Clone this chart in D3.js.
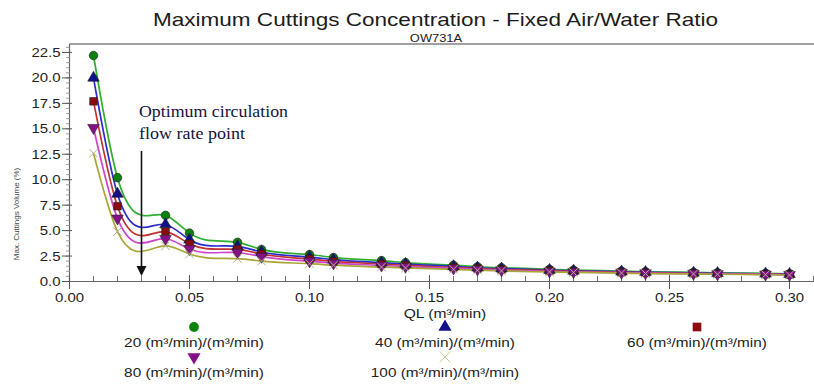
<!DOCTYPE html>
<html>
<head>
<meta charset="utf-8">
<script src="https://cdn.jsdelivr.net/npm/d3@7"></script>
<style>
  html, body { margin: 0; padding: 0; background: #fff; }
  svg { display: block; }
  text { font-family: "Liberation Sans", Arial, sans-serif; fill: #222; }
</style>
</head>
<body>
<svg id="chart" width="814" height="385"></svg>
<script>
// Liquid flow rate QL (m³/min) at which each case was simulated
const ql = [0.01, 0.02, 0.04, 0.05, 0.07, 0.08, 0.10, 0.11, 0.13, 0.14, 0.16,
            0.17, 0.18, 0.20, 0.21, 0.23, 0.24, 0.26, 0.27, 0.29, 0.30];

// Maximum cuttings volume (%) for each air/water ratio
const ratio20  = [22.2, 10.2, 6.5, 4.75, 3.85, 3.15, 2.65, 2.35, 2.05, 1.85, 1.6,
                  1.45, 1.35, 1.2, 1.12, 1.02, 0.96, 0.9, 0.85, 0.8, 0.76];
const ratio40  = [20.0, 8.6, 5.6, 4.1, 3.45, 2.9, 2.4, 2.15, 1.85, 1.7, 1.48,
                  1.35, 1.26, 1.12, 1.05, 0.96, 0.91, 0.85, 0.81, 0.76, 0.72];
const ratio60  = [17.7, 7.4, 4.9, 3.7, 3.15, 2.7, 2.2, 1.97, 1.72, 1.58, 1.38,
                  1.27, 1.18, 1.06, 0.99, 0.91, 0.86, 0.81, 0.77, 0.72, 0.69];
const ratio80  = [15.1, 6.2, 4.2, 3.2, 2.85, 2.45, 2.0, 1.8, 1.58, 1.46, 1.3,
                  1.2, 1.12, 1.0, 0.94, 0.87, 0.82, 0.77, 0.74, 0.7, 0.66];
const ratio100 = [12.6, 4.9, 3.5, 2.7, 2.25, 2.0, 1.75, 1.6, 1.42, 1.33, 1.2,
                  1.11, 1.04, 0.94, 0.89, 0.83, 0.78, 0.74, 0.71, 0.67, 0.64];

const seriesNames = ["20 (m³/min)/(m³/min)", "40 (m³/min)/(m³/min)", "60 (m³/min)/(m³/min)",
                     "80 (m³/min)/(m³/min)", "100 (m³/min)/(m³/min)"];
const seriesValues = [ratio20, ratio40, ratio60, ratio80, ratio100];

const xTickValues = [0, 0.05, 0.10, 0.15, 0.20, 0.25, 0.30];
const yTickValues = [0, 2.5, 5, 7.5, 10, 12.5, 15, 17.5, 20, 22.5];

const optimumQL = 0.03;

// Styling per series
const lineColors   = ["#2fae2f", "#2a2ad0", "#c03232", "#cc44cc", "#a9a635"];
const markerColors = ["#0a820a", "#10108a", "#8a0c0c", "#86108a", "#c9c9a0"];
const markerShapes = [d3.symbolCircle, d3.symbolTriangle, d3.symbolSquare, "down", d3.symbolX];

// Natural cubic spline in x (y as a function of x), emitted as Bezier segments
function NaturalSplineX(context) { this._context = context; }
NaturalSplineX.prototype = {
  areaStart() { this._line = 0; },
  areaEnd() { this._line = NaN; },
  lineStart() { this._x = []; this._y = []; },
  point(x, y) { this._x.push(+x); this._y.push(+y); },
  lineEnd() {
    const xs = this._x, ys = this._y, n = xs.length, c = this._context;
    if (!n) return;
    c.moveTo(xs[0], ys[0]);
    if (n < 3) { for (let i = 1; i < n; i++) c.lineTo(xs[i], ys[i]); return; }
    const h = d3.range(n - 1).map(i => xs[i + 1] - xs[i]);
    // tridiagonal system for second derivatives, natural ends
    const a = new Array(n).fill(0), b = new Array(n).fill(1),
          cc = new Array(n).fill(0), r = new Array(n).fill(0);
    for (let i = 1; i < n - 1; i++) {
      a[i] = h[i - 1];
      b[i] = 2 * (h[i - 1] + h[i]);
      cc[i] = h[i];
      r[i] = 6 * ((ys[i + 1] - ys[i]) / h[i] - (ys[i] - ys[i - 1]) / h[i - 1]);
    }
    for (let i = 1; i < n; i++) {
      const w = a[i] / b[i - 1];
      b[i] -= w * cc[i - 1];
      r[i] -= w * r[i - 1];
    }
    const M = new Array(n).fill(0);
    M[n - 1] = r[n - 1] / b[n - 1];
    for (let i = n - 2; i >= 0; i--) M[i] = (r[i] - cc[i] * M[i + 1]) / b[i];
    for (let i = 0; i < n - 1; i++) {
      const hi = h[i], s = (ys[i + 1] - ys[i]) / hi;
      const d0 = s - hi * (2 * M[i] + M[i + 1]) / 6;
      const d1 = s + hi * (M[i] + 2 * M[i + 1]) / 6;
      c.bezierCurveTo(xs[i] + hi / 3, ys[i] + d0 * hi / 3,
                      xs[i + 1] - hi / 3, ys[i + 1] - d1 * hi / 3,
                      xs[i + 1], ys[i + 1]);
    }
  }
};
const curveNaturalX = context => new NaturalSplineX(context);

// Widen text horizontally by a factor (wide sans rendering)
function widen(sel, f) {
  sel.each(function () {
    const w = this.getComputedTextLength();
    d3.select(this).attr("textLength", w * f).attr("lengthAdjust", "spacingAndGlyphs");
  });
  return sel;
}

const svg = d3.select("#chart");

const x = d3.scaleLinear().domain([0, 0.31]).range([69.5, 813.5]);
const y = d3.scaleLinear().domain([0, 23.33]).range([281.5, 44]);

// Titles
svg.append("text").attr("x", 435.5).attr("y", 25.5).attr("text-anchor", "middle")
  .style("font-size", "18.5px").style("fill", "#1c1c1c")
  .attr("textLength", 565).attr("lengthAdjust", "spacingAndGlyphs")
  .text("Maximum Cuttings Concentration - Fixed Air/Water Ratio");
widen(svg.append("text").attr("x", 436).attr("y", 41.5).attr("text-anchor", "middle")
  .style("font-size", "11.5px").style("fill", "#1c1c1c").text("OW731A"), 1.12);

// Frame top
svg.append("line").attr("x1", 69.5).attr("x2", 814).attr("y1", 44).attr("y2", 44)
  .attr("stroke", "#a0a0a0").attr("stroke-width", 2);

// Y axis
const yAxis = svg.append("g");
yAxis.append("line").attr("x1", 69.5).attr("x2", 69.5).attr("y1", 44).attr("y2", 281.5)
  .attr("stroke", "#666").attr("stroke-width", 1.2);
const yMinor = d3.range(0, 23.01, 0.5);
yAxis.selectAll(".ym").data(yMinor).join("line")
  .attr("x1", 66).attr("x2", 70).attr("y1", d => y(d)).attr("y2", d => y(d))
  .attr("stroke", "#888").attr("stroke-width", 0.8);
yAxis.selectAll(".yM").data(yTickValues).join("line")
  .attr("x1", 62).attr("x2", 72).attr("y1", d => y(d)).attr("y2", d => y(d))
  .attr("stroke", "#555").attr("stroke-width", 1);
widen(yAxis.selectAll(".yl").data(yTickValues).join("text")
  .attr("x", 60.5).attr("y", d => y(d) + 4.6).attr("text-anchor", "end")
  .style("font-size", "13px").text(d => d3.format(".1f")(d)), 1.15);
svg.append("text")
  .attr("transform", "translate(19,214) rotate(-90)").attr("text-anchor", "middle")
  .style("font-size", "8px").style("fill", "#444").text("Max. Cuttings Volume (%)");

// X axis
const xAxis = svg.append("g");
xAxis.append("line").attr("x1", 69.5).attr("x2", 814).attr("y1", 281.5).attr("y2", 281.5)
  .attr("stroke", "#666").attr("stroke-width", 1.2);
const xMinor = d3.range(0, 0.3101, 0.01);
xAxis.selectAll(".xm").data(xMinor).join("line")
  .attr("x1", d => x(d)).attr("x2", d => x(d)).attr("y1", 276).attr("y2", 281.5)
  .attr("stroke", "#666").attr("stroke-width", 0.9);
xAxis.selectAll(".xM").data(xTickValues).join("line")
  .attr("x1", d => x(d)).attr("x2", d => x(d)).attr("y1", 275).attr("y2", 289)
  .attr("stroke", "#555").attr("stroke-width", 1);
widen(xAxis.selectAll(".xl").data(xTickValues).join("text")
  .attr("x", d => x(d)).attr("y", 302).attr("text-anchor", "middle")
  .style("font-size", "13px").text(d => d3.format(".2f")(d)), 1.15);
widen(svg.append("text").attr("x", 445).attr("y", 318).attr("text-anchor", "middle")
  .style("font-size", "13px").text("QL (m³/min)"), 1.2);

// Series lines
const line = d3.line().x(d => x(d[0])).y(d => y(d[1])).curve(curveNaturalX);
const symbolPath = (shape, size) => {
  if (shape === "down") return d3.symbol().type(d3.symbolTriangle).size(size)();
  return d3.symbol().type(shape).size(size)();
};
const shapeTransform = (shape, cx, cy) =>
  `translate(${cx},${cy})` + (shape === "down" ? " rotate(180)" : "");

seriesValues.forEach((vals, i) => {
  const pts = ql.map((q, k) => [q, vals[k]]);
  svg.append("path").attr("d", line(pts)).attr("fill", "none")
    .attr("stroke", lineColors[i]).attr("stroke-width", 1.7);
});

seriesValues.forEach((vals, i) => {
  const pts = ql.map((q, k) => [q, vals[k]]);
  const shape = markerShapes[i];
  svg.append("g").selectAll("path").data(pts).join("path")
    .attr("d", symbolPath(shape, i === 4 ? 50 : 58))
    .attr("transform", d => shapeTransform(shape, x(d[0]), y(d[1])))
    .attr("fill", markerColors[i])
    .attr("stroke", i === 4 ? "#b0b08a" : "#222")
    .attr("stroke-width", i === 4 ? 1 : 0.6);
});

// Optimum circulation annotation
const ax = x(optimumQL);
svg.append("line").attr("x1", ax).attr("x2", ax).attr("y1", 151).attr("y2", 268)
  .attr("stroke", "#111").attr("stroke-width", 1.6);
svg.append("path")
  .attr("d", `M${ax - 5},${266} L${ax + 5},${266} L${ax},${276} Z`)
  .attr("fill", "#111");
const noteFont = "'Liberation Serif', 'Times New Roman', serif";
svg.append("text").attr("x", 139).attr("y", 117)
  .style("font-family", noteFont).style("font-size", "16.5px").style("fill", "#14143a")
  .attr("textLength", 149).attr("lengthAdjust", "spacingAndGlyphs")
  .text("Optimum circulation");
svg.append("text").attr("x", 139).attr("y", 139)
  .style("font-family", noteFont).style("font-size", "16.5px").style("fill", "#14143a")
  .attr("textLength", 106).attr("lengthAdjust", "spacingAndGlyphs")
  .text("flow rate point");

// Legend
const legendPos = [[194, 327, 347], [445, 327, 347], [697, 327, 347],
                   [194, 357, 377], [445, 357, 377]];
seriesNames.forEach((name, i) => {
  const [lx, sy, ty] = legendPos[i];
  const shape = markerShapes[i];
  svg.append("path").attr("d", symbolPath(shape, 75))
    .attr("transform", shapeTransform(shape, lx, sy))
    .attr("fill", markerColors[i])
    .attr("stroke", i === 4 ? "#c9c9a0" : "none").attr("stroke-width", 1);
  widen(svg.append("text").attr("x", lx).attr("y", ty).attr("text-anchor", "middle")
    .style("font-size", "13px").text(name), 1.18);
});
</script>
</body>
</html>
